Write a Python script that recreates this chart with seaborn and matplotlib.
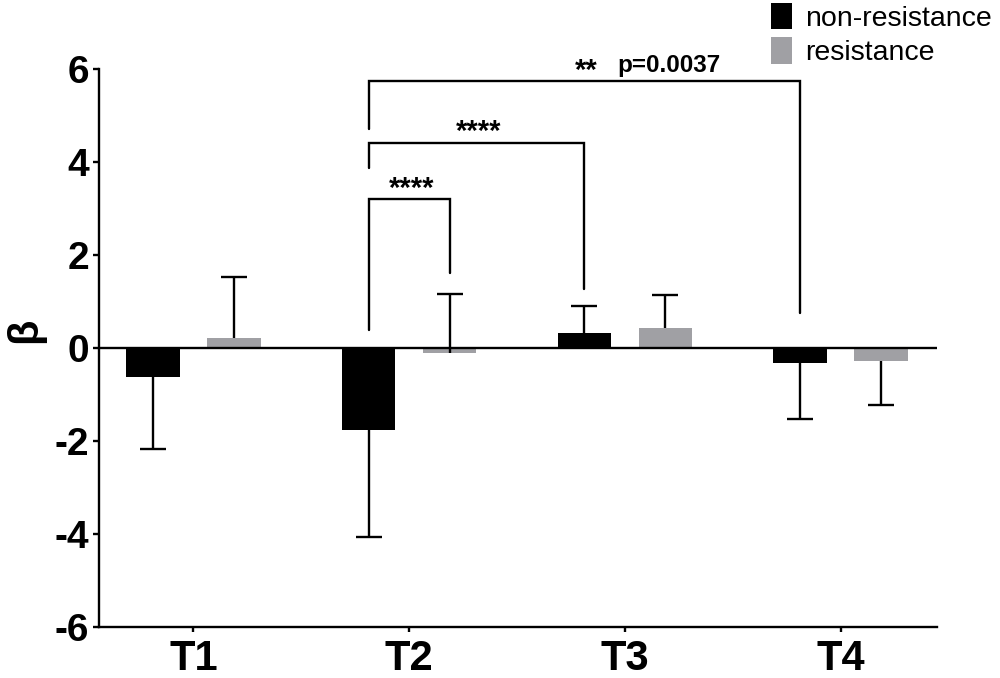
import matplotlib
matplotlib.use("Agg")
import matplotlib.pyplot as plt
import seaborn as sns
import pandas as pd

# ---- data ----
times = ["T1", "T2", "T3", "T4"]
groups = ["non-resistance", "resistance"]
nonres_mean = [-0.63, -1.76, 0.33, -0.33]
res_mean = [0.21, -0.10, 0.43, -0.27]
nonres_err = [1.54, 2.32, 0.57, 1.19]
res_err = [1.31, 1.27, 0.71, 0.95]
nonres_dir = [-1, -1, 1, -1]
res_dir = [1, 1, 1, -1]
yticks = [-6, -4, -2, 0, 2, 4, 6]
colors = {"non-resistance": "#000000", "resistance": "#a0a0a4"}

# significance brackets (all start at the T2 non-resistance bar)
bracket_right_group = ["resistance", "non-resistance", "non-resistance"]
bracket_right_time = ["T2", "T3", "T4"]
bracket_left_bottom = [0.39, 3.87, 4.71]
bracket_top = [3.21, 4.42, 5.75]
bracket_right_bottom = [1.62, 1.26, 0.76]
bracket_labels = ["****", "****", "**"]
p_label = "p=0.0037"

df = pd.DataFrame({
    "time": times * 2,
    "group": [groups[0]] * 4 + [groups[1]] * 4,
    "beta": nonres_mean + res_mean,
})

sns.set_style("ticks")
plt.rcParams["font.family"] = ["Liberation Sans", "DejaVu Sans"]
for k in ["text.color", "axes.labelcolor", "xtick.color", "ytick.color",
          "axes.edgecolor"]:
    plt.rcParams[k] = "black"

fig = plt.figure(figsize=(10, 6.78), dpi=100)
ax = fig.add_axes([0.0993, 0.0757, 0.838, 0.8221])

sns.barplot(data=df, x="time", y="beta", hue="group", order=times,
            hue_order=groups, palette=colors, width=0.75, gap=0.34,
            errorbar=None, saturation=1, linewidth=0, ax=ax)

# bar centres from the library's own bars
centers = {}
for g, cont in zip(groups, ax.containers):
    for t, b in zip(times, cont):
        centers[(g, t)] = b.get_x() + b.get_width() / 2

# one-sided error bars
lw = 1.7
for g, means, errs, dirs in [(groups[0], nonres_mean, nonres_err, nonres_dir),
                             (groups[1], res_mean, res_err, res_dir)]:
    for t, m, e, d in zip(times, means, errs, dirs):
        x = centers[(g, t)]
        end = m + d * e
        ax.vlines(x, m, end, color="black", lw=lw, zorder=4)
        ax.plot([x], [end], marker="_", ms=19.4, mew=lw, color="black", zorder=4)

ax.axhline(0, color="black", lw=lw, zorder=5)

# brackets
x_left = centers[(groups[0], "T2")]
for rg, rt, lb, top, rb, lab in zip(bracket_right_group, bracket_right_time,
                                    bracket_left_bottom, bracket_top,
                                    bracket_right_bottom, bracket_labels):
    xr = centers[(rg, rt)]
    ax.plot([x_left, x_left, xr, xr], [lb, top, top, rb], color="black",
            lw=lw, solid_joinstyle="miter", clip_on=False, zorder=4)
    ax.text((x_left + xr) / 2 + 0.01, top + 0.05, lab, ha="center",
            va="baseline", fontsize=21, fontweight="bold", clip_on=False)
ax.text(1.963, 5.95, p_label, ha="left", va="baseline", fontsize=17.5,
        fontweight="bold", clip_on=False)

# axes
ax.set_xlim(-0.436, 3.448)
ax.set_ylim(-6, 6)
ax.set_yticks(yticks)
ax.set_yticklabels([str(v) for v in yticks])
sns.despine(ax=ax)
for s in ["left", "bottom"]:
    ax.spines[s].set_linewidth(lw)
ax.tick_params(axis="y", length=4.3, width=lw, pad=3, labelsize=28,
               colors="black")
ax.tick_params(axis="x", length=3.6, width=lw, pad=5.5, labelsize=30,
               colors="black")
for lab in ax.get_yticklabels() + ax.get_xticklabels():
    lab.set_fontweight("bold")
ax.set_xlabel("")
ax.set_ylabel("β", fontsize=30, fontweight="bold", color="black")
ax.yaxis.set_label_coords(-0.0648, 0.532)

handles, labels = ax.get_legend_handles_labels()
ax.legend(handles, labels, loc="upper left", bbox_to_anchor=(0.7707, 0.996),
          bbox_transform=fig.transFigure, frameon=False, fontsize=20.5,
          handlelength=0.74, handleheight=1.05, handletextpad=0.47,
          labelspacing=0.2, borderpad=0, borderaxespad=0)

fig.savefig("out.png", dpi=100)
